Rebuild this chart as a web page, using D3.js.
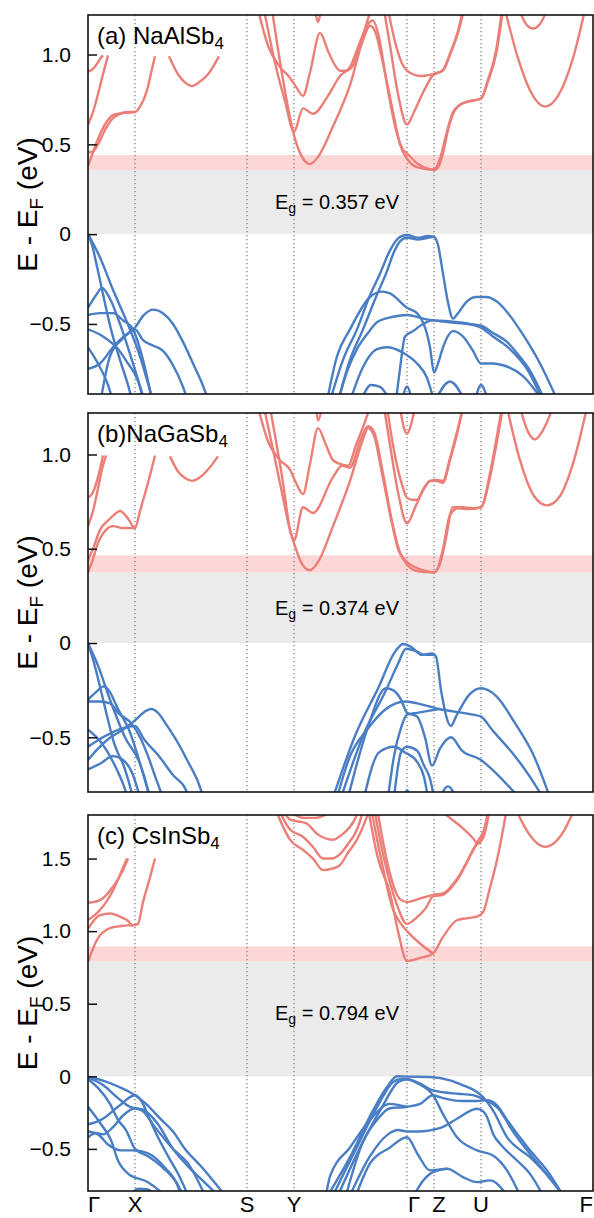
<!DOCTYPE html>
<html>
<head>
<meta charset="utf-8">
<script src="https://cdn.jsdelivr.net/npm/d3@7"></script>
<style>
  body { margin: 0; background: #fff; }
  text { font-family: "Liberation Sans", Arial, Helvetica, sans-serif; }
</style>
</head>
<body>
<svg id="chart" width="594" height="1218"></svg>
<script>
// high-symmetry path (k in path units) and labels
const kTicks = [0, 47, 159, 206, 319, 346, 393, 505];
const kLabels = ["Γ", "X", "S", "Y", "Γ", "Z", "U", "F"];

const compounds = ["NaAlSb", "NaGaSb", "CsInSb"];
const panelTags = ["(a) ", "(b)", "(c) "];
const gapValues = [0.357, 0.374, 0.794];
const pinkTops = [0.44, 0.465, 0.895];
const gapText = ["= 0.357 eV", "= 0.374 eV", " = 0.794 eV"];
const yTicksAB = [-0.5, 0, 0.5, 1.0];
const yTicksC = [-0.5, 0, 0.5, 1.0, 1.5];

// bands: each entry is one segment of [k, E]
const aCond = [
  [[0,0.905],[4,0.915],[8,0.94],[12,0.975],[15,0.995]],
  [[0,0.61],[5,0.68],[10,0.78],[15,0.89],[20,0.995]],
  [[0,0.455],[5,0.46],[10,0.5],[18,0.59],[25,0.645],[32,0.67],[40,0.68],[47,0.68]],
  [[0,0.38],[4,0.44],[10,0.53],[18,0.62],[26,0.665],[36,0.675],[47,0.68],[52,0.71],[59,0.8],[64,0.92],[67,0.99]],
  [[81,0.99],[90,0.89],[97,0.845],[104,0.825],[111,0.845],[120,0.89],[131,0.99]],
  [[170,1.25],[180,1.05],[192,0.93],[202,0.87],[208,0.82],[215,0.77],[222,0.9],[232,1.12],[240,1.02],[246,0.95],[252,0.91],[258,0.91],[264,0.93],[272,1.05],[280,1.2],[283,1.25]],
  [[176,1.25],[188,0.93],[197,0.74],[206,0.57],[215,0.7],[225,0.67],[240,0.77],[252,0.88],[262,0.93],[272,1.07],[280,1.17],[285,1.19],[290,1.12],[300,0.8],[308,0.58],[315,0.47],[319,0.45],[330,0.39],[340,0.365],[346,0.36],[352,0.42],[358,0.55],[365,0.68],[372,0.72],[382,0.74],[393,0.755],[400,0.85],[408,1.0],[415,1.25]],
  [[184,1.25],[195,0.86],[206,0.55],[214,0.43],[222,0.39],[230,0.43],[245,0.6],[262,0.83],[275,1.08],[282,1.16],[287,1.13],[295,0.95],[305,0.68],[312,0.5],[319,0.42],[326,0.38],[335,0.365],[346,0.357],[350,0.37],[355,0.45],[360,0.58],[366,0.68],[375,0.73],[393,0.755],[400,0.86],[408,1.02],[414,1.25]],
  [[296,1.25],[302,1.05],[310,0.78],[319,0.61],[326,0.68],[336,0.8],[346,0.89],[355,0.91],[362,1.0],[370,1.12],[376,1.25]],
  [[300,1.25],[308,1.05],[314,0.95],[319,0.91],[325,0.89],[332,0.88],[340,0.885],[346,0.89],[355,0.915],[363,1.02],[370,1.13],[375,1.25]],
  [[417,1.25],[430,0.98],[445,0.77],[457,0.71],[470,0.77],[485,0.98],[497,1.25]],
  [[431,1.25],[438,1.17],[445,1.145],[452,1.17],[459,1.25]],
  [[227,1.25],[230,1.18],[233,1.25]]
];

const aVal = [
  [[0,0],[12,-0.13],[25,-0.31],[39,-0.49],[52,-0.68],[62,-0.87],[66,-0.95]],
  [[0,0],[4,-0.06],[9,-0.18],[16,-0.36],[23,-0.53],[32,-0.7],[42,-0.88],[45,-0.95]],
  [[0,-0.41],[8,-0.34],[14,-0.3],[22,-0.36],[32,-0.5],[45,-0.72],[55,-0.9],[58,-0.95]],
  [[0,-0.45],[12,-0.44],[25,-0.44],[35,-0.48],[45,-0.53],[55,-0.7],[62,-0.87],[65,-0.95]],
  [[12,-0.95],[22,-0.68],[35,-0.58],[47,-0.52],[56,-0.45],[65,-0.42],[75,-0.44],[85,-0.5],[95,-0.6],[105,-0.72],[114,-0.83],[120,-0.92]],
  [[0,-0.75],[12,-0.72],[25,-0.63],[38,-0.56],[47,-0.53],[55,-0.59],[65,-0.62],[75,-0.65],[85,-0.73],[95,-0.85],[100,-0.93]],
  [[0,-0.53],[15,-0.57],[30,-0.64],[40,-0.72],[47,-0.78],[52,-0.85],[56,-0.95]],
  [[0,-0.63],[10,-0.72],[20,-0.84],[25,-0.93]],
  [[242,-0.93],[255,-0.7],[269,-0.53],[282,-0.34],[292,-0.22],[302,-0.09],[312,-0.015],[319,-0.005],[330,-0.02],[340,-0.01],[346,-0.015],[350,-0.06],[355,-0.22],[360,-0.38],[365,-0.47],[370,-0.44],[378,-0.38],[388,-0.35],[398,-0.35],[410,-0.38],[420,-0.44],[435,-0.56],[452,-0.72],[469,-0.92]],
  [[250,-0.93],[262,-0.7],[275,-0.53],[288,-0.35],[298,-0.22],[306,-0.1],[312,-0.04],[319,-0.02],[330,-0.03],[340,-0.02],[346,-0.015]],
  [[250,-0.93],[260,-0.75],[269,-0.64],[280,-0.55],[289,-0.49],[305,-0.46],[319,-0.45],[335,-0.47],[360,-0.49],[380,-0.5],[393,-0.51],[405,-0.55],[419,-0.6],[430,-0.67],[442,-0.76],[457,-0.93]],
  [[308,-0.93],[312,-0.75],[317,-0.57],[325,-0.54],[335,-0.5],[345,-0.48],[370,-0.49],[393,-0.52],[405,-0.57],[420,-0.63],[440,-0.76],[455,-0.93]],
  [[239,-0.93],[249,-0.68],[262,-0.53],[282,-0.35],[294,-0.32],[302,-0.33],[319,-0.41],[329,-0.44],[342,-0.63],[346,-0.77],[350,-0.72],[355,-0.63],[365,-0.54],[375,-0.57],[385,-0.65],[393,-0.72],[405,-0.72],[415,-0.73],[435,-0.79],[455,-0.93]],
  [[262,-0.93],[275,-0.74],[289,-0.64],[299,-0.63],[315,-0.66],[329,-0.72],[339,-0.8],[346,-0.93]],
  [[273,-0.93],[283,-0.84],[292,-0.85],[302,-0.93]],
  [[314,-0.93],[319,-0.85],[324,-0.93]],
  [[347,-0.93],[362,-0.82],[377,-0.93]],
  [[387,-0.93],[393,-0.84],[400,-0.93]]
];

const bCond = [
  [[0,0.77],[5,0.8],[10,0.88],[15,0.995]],
  [[0,0.62],[5,0.7],[10,0.82],[14,0.92],[18,0.995]],
  [[0,0.44],[5,0.5],[12,0.6],[20,0.65],[26,0.68],[32,0.7],[40,0.66],[47,0.61],[52,0.7],[60,0.85],[67,0.995]],
  [[0,0.375],[4,0.43],[10,0.53],[18,0.6],[25,0.62],[35,0.61],[47,0.61]],
  [[82,0.99],[90,0.91],[97,0.875],[104,0.86],[111,0.875],[120,0.92],[130,0.99]],
  [[170,1.25],[180,1.07],[192,0.97],[202,0.92],[208,0.85],[215,0.79],[222,0.95],[230,1.14],[238,1.05],[245,0.97],[252,0.95],[260,0.94],[268,1.05],[276,1.16],[282,1.25]],
  [[176,1.25],[188,0.95],[197,0.72],[202,0.6],[206,0.545],[215,0.72],[225,0.69],[245,0.88],[254,0.94],[262,0.93],[272,1.07],[280,1.15],[286,1.12],[295,0.9],[305,0.62],[312,0.48],[319,0.43],[330,0.395],[340,0.38],[346,0.375],[352,0.42],[357,0.53],[365,0.72],[375,0.72],[385,0.715],[393,0.72],[402,0.88],[410,1.1],[415,1.25]],
  [[182,1.25],[195,0.85],[202,0.6],[206,0.53],[214,0.42],[222,0.386],[230,0.43],[245,0.62],[262,0.86],[275,1.08],[280,1.14],[286,1.1],[294,0.9],[303,0.66],[310,0.5],[316,0.44],[322,0.4],[330,0.38],[338,0.376],[346,0.374],[350,0.4],[355,0.5],[362,0.68],[370,0.715],[380,0.71],[393,0.72],[402,0.9],[409,1.1],[414,1.25]],
  [[296,1.25],[302,1.05],[310,0.8],[319,0.635],[328,0.73],[337,0.83],[342,0.86],[348,0.86],[355,0.85],[362,0.97],[370,1.13],[375,1.25]],
  [[299,1.25],[306,1.02],[314,0.84],[319,0.77],[324,0.76],[329,0.76],[336,0.82],[342,0.86],[348,0.865],[355,0.86],[362,0.98],[370,1.14],[375,1.25]],
  [[312,1.25],[316,1.14],[319,1.11],[322,1.14],[327,1.25]],
  [[419,1.25],[432,0.97],[446,0.78],[459,0.73],[472,0.78],[486,0.97],[499,1.25]],
  [[432,1.25],[440,1.12],[447,1.08],[454,1.12],[465,1.25]],
  [[228,1.25],[230,1.18],[234,1.25]]
];

const bVal = [
  [[0,0],[10,-0.12],[22,-0.3],[37,-0.5],[52,-0.64],[60,-0.78],[63,-0.85]],
  [[0,0],[7,-0.125],[16,-0.32],[26,-0.53],[37,-0.67],[43,-0.78],[46,-0.85]],
  [[0,-0.3],[8,-0.26],[16,-0.23],[22,-0.26],[29,-0.34],[41,-0.46],[56,-0.71],[62,-0.82]],
  [[0,-0.31],[12,-0.31],[22,-0.32],[30,-0.37],[44,-0.43],[52,-0.5],[60,-0.6],[68,-0.72],[75,-0.82]],
  [[0,-0.62],[10,-0.56],[20,-0.51],[35,-0.46],[47,-0.41],[58,-0.36],[63,-0.35],[70,-0.37],[78,-0.43],[90,-0.53],[100,-0.63],[113,-0.78],[116,-0.84]],
  [[0,-0.55],[15,-0.5],[30,-0.46],[47,-0.44],[56,-0.51],[71,-0.6],[85,-0.7],[98,-0.78],[102,-0.84]],
  [[0,-0.46],[12,-0.52],[26,-0.64],[33,-0.72],[40,-0.82]],
  [[0,-0.67],[12,-0.64],[25,-0.6],[35,-0.62],[45,-0.7],[52,-0.82]],
  [[245,-0.82],[268,-0.48],[291,-0.23],[306,-0.055],[315,-0.005],[323,-0.02],[334,-0.063],[344,-0.055],[348,-0.072],[353,-0.25],[363,-0.44],[368,-0.39],[382,-0.27],[393,-0.24],[408,-0.28],[427,-0.425],[446,-0.6],[462,-0.82]],
  [[253,-0.82],[276,-0.48],[298,-0.25],[310,-0.11],[318,-0.03],[329,-0.045],[336,-0.063],[346,-0.063]],
  [[260,-0.82],[279,-0.46],[298,-0.24],[305,-0.25],[313,-0.3],[319,-0.37],[329,-0.39],[337,-0.5],[344,-0.65],[352,-0.56],[363,-0.5],[374,-0.57],[393,-0.62],[404,-0.67],[431,-0.82]],
  [[249,-0.82],[262,-0.6],[279,-0.46],[298,-0.35],[317,-0.31],[329,-0.32],[351,-0.35],[385,-0.38],[393,-0.39],[404,-0.46],[427,-0.6],[442,-0.71],[455,-0.82]],
  [[306,-0.82],[313,-0.58],[319,-0.55],[329,-0.57],[336,-0.65],[342,-0.72],[346,-0.82]],
  [[300,-0.82],[306,-0.6],[313,-0.45],[319,-0.38],[329,-0.37],[340,-0.36],[351,-0.35]],
  [[276,-0.82],[291,-0.58],[306,-0.55],[317,-0.58],[329,-0.63],[336,-0.71],[340,-0.82]],
  [[352,-0.82],[360,-0.76],[368,-0.82]],
  [[316,-0.82],[319,-0.78],[323,-0.82]]
];

const cCond = [
  [[0,1.195],[12,1.214],[25,1.306],[35,1.42],[40,1.5]],
  [[0,1.076],[12,1.145],[25,1.28],[37,1.47],[39,1.5]],
  [[0,1.018],[12,1.11],[22,1.122],[32,1.1],[39,1.076],[45,1.04],[50,1.05],[55,1.2],[62,1.37],[67,1.5]],
  [[0,0.79],[9,0.94],[22,1.02],[33,1.035],[39,1.04],[45,1.04]],
  [[187,1.85],[195,1.72],[202,1.63],[215,1.56],[225,1.5],[235,1.42],[244,1.43],[252,1.455],[260,1.54],[269,1.63],[279,1.79],[282,1.85]],
  [[190,1.85],[202,1.7],[215,1.65],[225,1.58],[235,1.5],[244,1.5],[252,1.53],[260,1.6],[269,1.7],[276,1.85]],
  [[193,1.85],[202,1.77],[219,1.74],[229,1.67],[245,1.63],[255,1.67],[266,1.76],[272,1.85]],
  [[203,1.82],[215,1.78],[228,1.78],[242,1.82]],
  [[280,1.85],[290,1.5],[302,1.26],[310,1.0],[319,0.794],[332,0.815],[345,0.846],[355,0.96],[369,1.075],[380,1.09],[389,1.1],[395,1.13],[402,1.3],[409,1.49],[419,1.85]],
  [[283,1.85],[293,1.5],[305,1.15],[312,1.06],[319,1.0],[332,0.915],[345,0.846]],
  [[286,1.85],[296,1.5],[308,1.2],[319,1.05],[328,1.09],[338,1.16],[345,1.24],[355,1.25],[369,1.35],[389,1.6],[395,1.64],[402,1.85]],
  [[289,1.85],[300,1.45],[312,1.22],[319,1.2],[330,1.22],[345,1.25],[355,1.26],[369,1.36],[389,1.61],[396,1.7],[401,1.85]],
  [[350,1.85],[360,1.79],[373,1.72],[385,1.64],[390,1.6],[396,1.68],[401,1.85]],
  [[427,1.85],[440,1.68],[450,1.6],[457,1.58],[465,1.6],[475,1.68],[487,1.85]]
];

const cVal = [
  [[0,-0.005],[15,-0.03],[30,-0.07],[47,-0.13],[58,-0.19],[72,-0.29],[85,-0.38],[97,-0.5],[113,-0.62],[137,-0.82]],
  [[0,-0.01],[15,-0.06],[30,-0.15],[42,-0.21],[47,-0.22],[55,-0.24],[67,-0.35],[85,-0.5],[100,-0.6],[117,-0.82]],
  [[0,-0.33],[13,-0.3],[30,-0.21],[47,-0.13],[55,-0.19],[60,-0.27],[70,-0.42],[80,-0.55],[90,-0.67],[100,-0.82]],
  [[0,-0.02],[10,-0.08],[22,-0.19],[30,-0.3],[38,-0.37],[47,-0.5],[60,-0.55],[75,-0.63],[90,-0.75],[95,-0.82]],
  [[0,-0.42],[8,-0.39],[15,-0.4],[25,-0.35],[35,-0.27],[47,-0.22],[55,-0.23],[70,-0.33],[85,-0.5],[100,-0.62],[115,-0.72],[130,-0.82]],
  [[0,-0.38],[10,-0.4],[20,-0.47],[33,-0.51],[47,-0.51],[60,-0.53],[77,-0.63],[90,-0.76],[93,-0.82]],
  [[0,-0.21],[13,-0.33],[23,-0.44],[30,-0.58],[40,-0.67],[60,-0.73],[77,-0.82]],
  [[43,-0.82],[50,-0.775],[60,-0.78],[67,-0.82]],
  [[240,-0.82],[262,-0.557],[285,-0.235],[299,-0.074],[309,0],[319,-0.002],[342,-0.005],[362,-0.028],[375,-0.062],[389,-0.108],[395,-0.143],[405,-0.235],[419,-0.419],[442,-0.557],[455,-0.648],[475,-0.82]],
  [[245,-0.82],[268,-0.5],[290,-0.2],[305,-0.04],[312,-0.02],[319,-0.02],[332,-0.05],[342,-0.09],[355,-0.11],[370,-0.12],[385,-0.13],[393,-0.15],[400,-0.17],[410,-0.22],[425,-0.38],[445,-0.56],[462,-0.7],[475,-0.82]],
  [[250,-0.82],[275,-0.45],[295,-0.2],[310,-0.04],[319,-0.02],[330,-0.05],[345,-0.13],[355,-0.26],[369,-0.42],[389,-0.51],[405,-0.545],[419,-0.648],[432,-0.82]],
  [[258,-0.82],[275,-0.45],[289,-0.3],[302,-0.22],[319,-0.21],[332,-0.19],[345,-0.13],[355,-0.15],[375,-0.17],[389,-0.17],[399,-0.165],[409,-0.2],[419,-0.3],[442,-0.51],[459,-0.648],[475,-0.82]],
  [[262,-0.82],[282,-0.55],[300,-0.4],[310,-0.37],[319,-0.38],[330,-0.38],[342,-0.372],[355,-0.349],[369,-0.292],[389,-0.223],[395,-0.24],[399,-0.28],[405,-0.395],[415,-0.487],[429,-0.58],[442,-0.672],[455,-0.82]],
  [[268,-0.82],[282,-0.6],[302,-0.49],[319,-0.42],[330,-0.54],[342,-0.648],[359,-0.637],[375,-0.694],[389,-0.729],[402,-0.717],[419,-0.82]],
  [[238,-0.82],[242,-0.69],[262,-0.49],[282,-0.3],[302,-0.19],[312,-0.2],[319,-0.21]],
  [[326,-0.82],[335,-0.72],[345,-0.66],[359,-0.637]]
];

const width = 594, height = 1218;
const left = 88, right = 593;

const panels = [
  { cond: aCond, val: aVal, yDomain: [-0.89, 1.22], top: 15, bottom: 394, ticks: yTicksAB, egAt: 0.5 },
  { cond: bCond, val: bVal, yDomain: [-0.79, 1.22], top: 413, bottom: 792, ticks: yTicksAB, egAt: 0.5 },
  { cond: cCond, val: cVal, yDomain: [-0.79, 1.80], top: 815, bottom: 1191, ticks: yTicksC, egAt: 0.55 }
];

const svg = d3.select("#chart");
const x = d3.scaleLinear().domain([kTicks[0], kTicks[kTicks.length - 1]]).range([left, right]);

const red = "#eb7f78", blue = "#4a7ec4";

panels.forEach((p, i) => {
  const y = d3.scaleLinear().domain(p.yDomain).range([p.bottom, p.top]);
  const g = svg.append("g");

  const clipId = "clip" + i;
  svg.append("clipPath").attr("id", clipId)
    .append("rect")
    .attr("x", left).attr("y", p.top)
    .attr("width", right - left).attr("height", p.bottom - p.top);

  // gap shading
  g.append("rect")
    .attr("x", left).attr("width", right - left)
    .attr("y", y(gapValues[i])).attr("height", y(0) - y(gapValues[i]))
    .attr("fill", "#ebebeb");
  g.append("rect")
    .attr("x", left).attr("width", right - left)
    .attr("y", y(pinkTops[i])).attr("height", y(gapValues[i]) - y(pinkTops[i]))
    .attr("fill", "#fdd6d6");

  // dotted high-symmetry lines
  g.append("g")
    .selectAll("line")
    .data(kTicks.slice(1, -1))
    .join("line")
    .attr("x1", d => x(d)).attr("x2", d => x(d))
    .attr("y1", p.top).attr("y2", p.bottom)
    .attr("stroke", "#808080")
    .attr("stroke-width", 1.3)
    .attr("stroke-dasharray", "1.3,2.7");

  const line = d3.line()
    .x(d => x(d[0]))
    .y(d => y(d[1]))
    .curve(d3.curveMonotoneX);

  const bands = g.append("g").attr("clip-path", `url(#${clipId})`);
  bands.selectAll("path.val")
    .data(p.val)
    .join("path")
    .attr("class", "val")
    .attr("d", line)
    .attr("fill", "none")
    .attr("stroke", blue)
    .attr("stroke-width", 2.4)
    .attr("stroke-linejoin", "round");
  bands.selectAll("path.cond")
    .data(p.cond)
    .join("path")
    .attr("class", "cond")
    .attr("d", line)
    .attr("fill", "none")
    .attr("stroke", red)
    .attr("stroke-width", 2.4)
    .attr("stroke-linejoin", "round");

  // frame
  g.append("rect")
    .attr("x", left).attr("y", p.top)
    .attr("width", right - left).attr("height", p.bottom - p.top)
    .attr("fill", "none").attr("stroke", "#111").attr("stroke-width", 1.6);

  // y axis with inward ticks
  const yAxis = d3.axisLeft(y)
    .tickValues(p.ticks)
    .tickSizeInner(-9).tickSizeOuter(0)
    .tickPadding(17)
    .tickFormat(d => d === 0 ? "0" : (d < 0 ? "\u2212" : "") + Math.abs(d).toFixed(1));
  const ya = g.append("g")
    .attr("transform", `translate(${left},0)`)
    .call(yAxis);
  ya.select(".domain").remove();
  ya.selectAll("line").attr("stroke", "#111").attr("stroke-width", 1.5);
  ya.selectAll("text")
    .attr("fill", "black")
    .style("font-size", "21px")
    .style("font-family", "'Liberation Sans', Arial, sans-serif");

  // y title
  const yt = g.append("text")
    .attr("transform", `translate(37,${(p.top + p.bottom) / 2}) rotate(-90)`)
    .attr("text-anchor", "middle")
    .style("font-size", "28px");
  yt.append("tspan").text("E - E");
  yt.append("tspan").attr("baseline-shift", "-30%").style("font-size", "19px").text("F");
  yt.append("tspan").text(" (eV)");

  // panel label
  const pl = g.append("text")
    .attr("x", 97).attr("y", p.top + 29)
    .style("font-size", "24px");
  pl.append("tspan").text(panelTags[i] + compounds[i]);
  pl.append("tspan").attr("baseline-shift", "-30%").style("font-size", "17px").text("4");

  // gap label
  const eg = g.append("text")
    .attr("x", 275).attr("y", y(gapValues[i] * p.egAt) + 7)
    .style("font-size", "20px");
  eg.append("tspan").text("E");
  eg.append("tspan").attr("baseline-shift", "-30%").style("font-size", "14px").text("g");
  eg.append("tspan").text(" " + gapText[i]);

  // k labels under the last panel
  if (i === panels.length - 1) {
    svg.append("g")
      .selectAll("text")
      .data(kLabels)
      .join("text")
      .attr("x", (d, j) => x(kTicks[j]) + (j === 4 ? 7 : j === 5 ? 5 : 0))
      .attr("y", p.bottom + 21)
      .attr("text-anchor", (d, j) => j === 0 ? "start" : j === kLabels.length - 1 ? "end" : "middle")
      .style("font-size", "22px")
      .text(d => d);
  }
});
</script>
</body>
</html>
